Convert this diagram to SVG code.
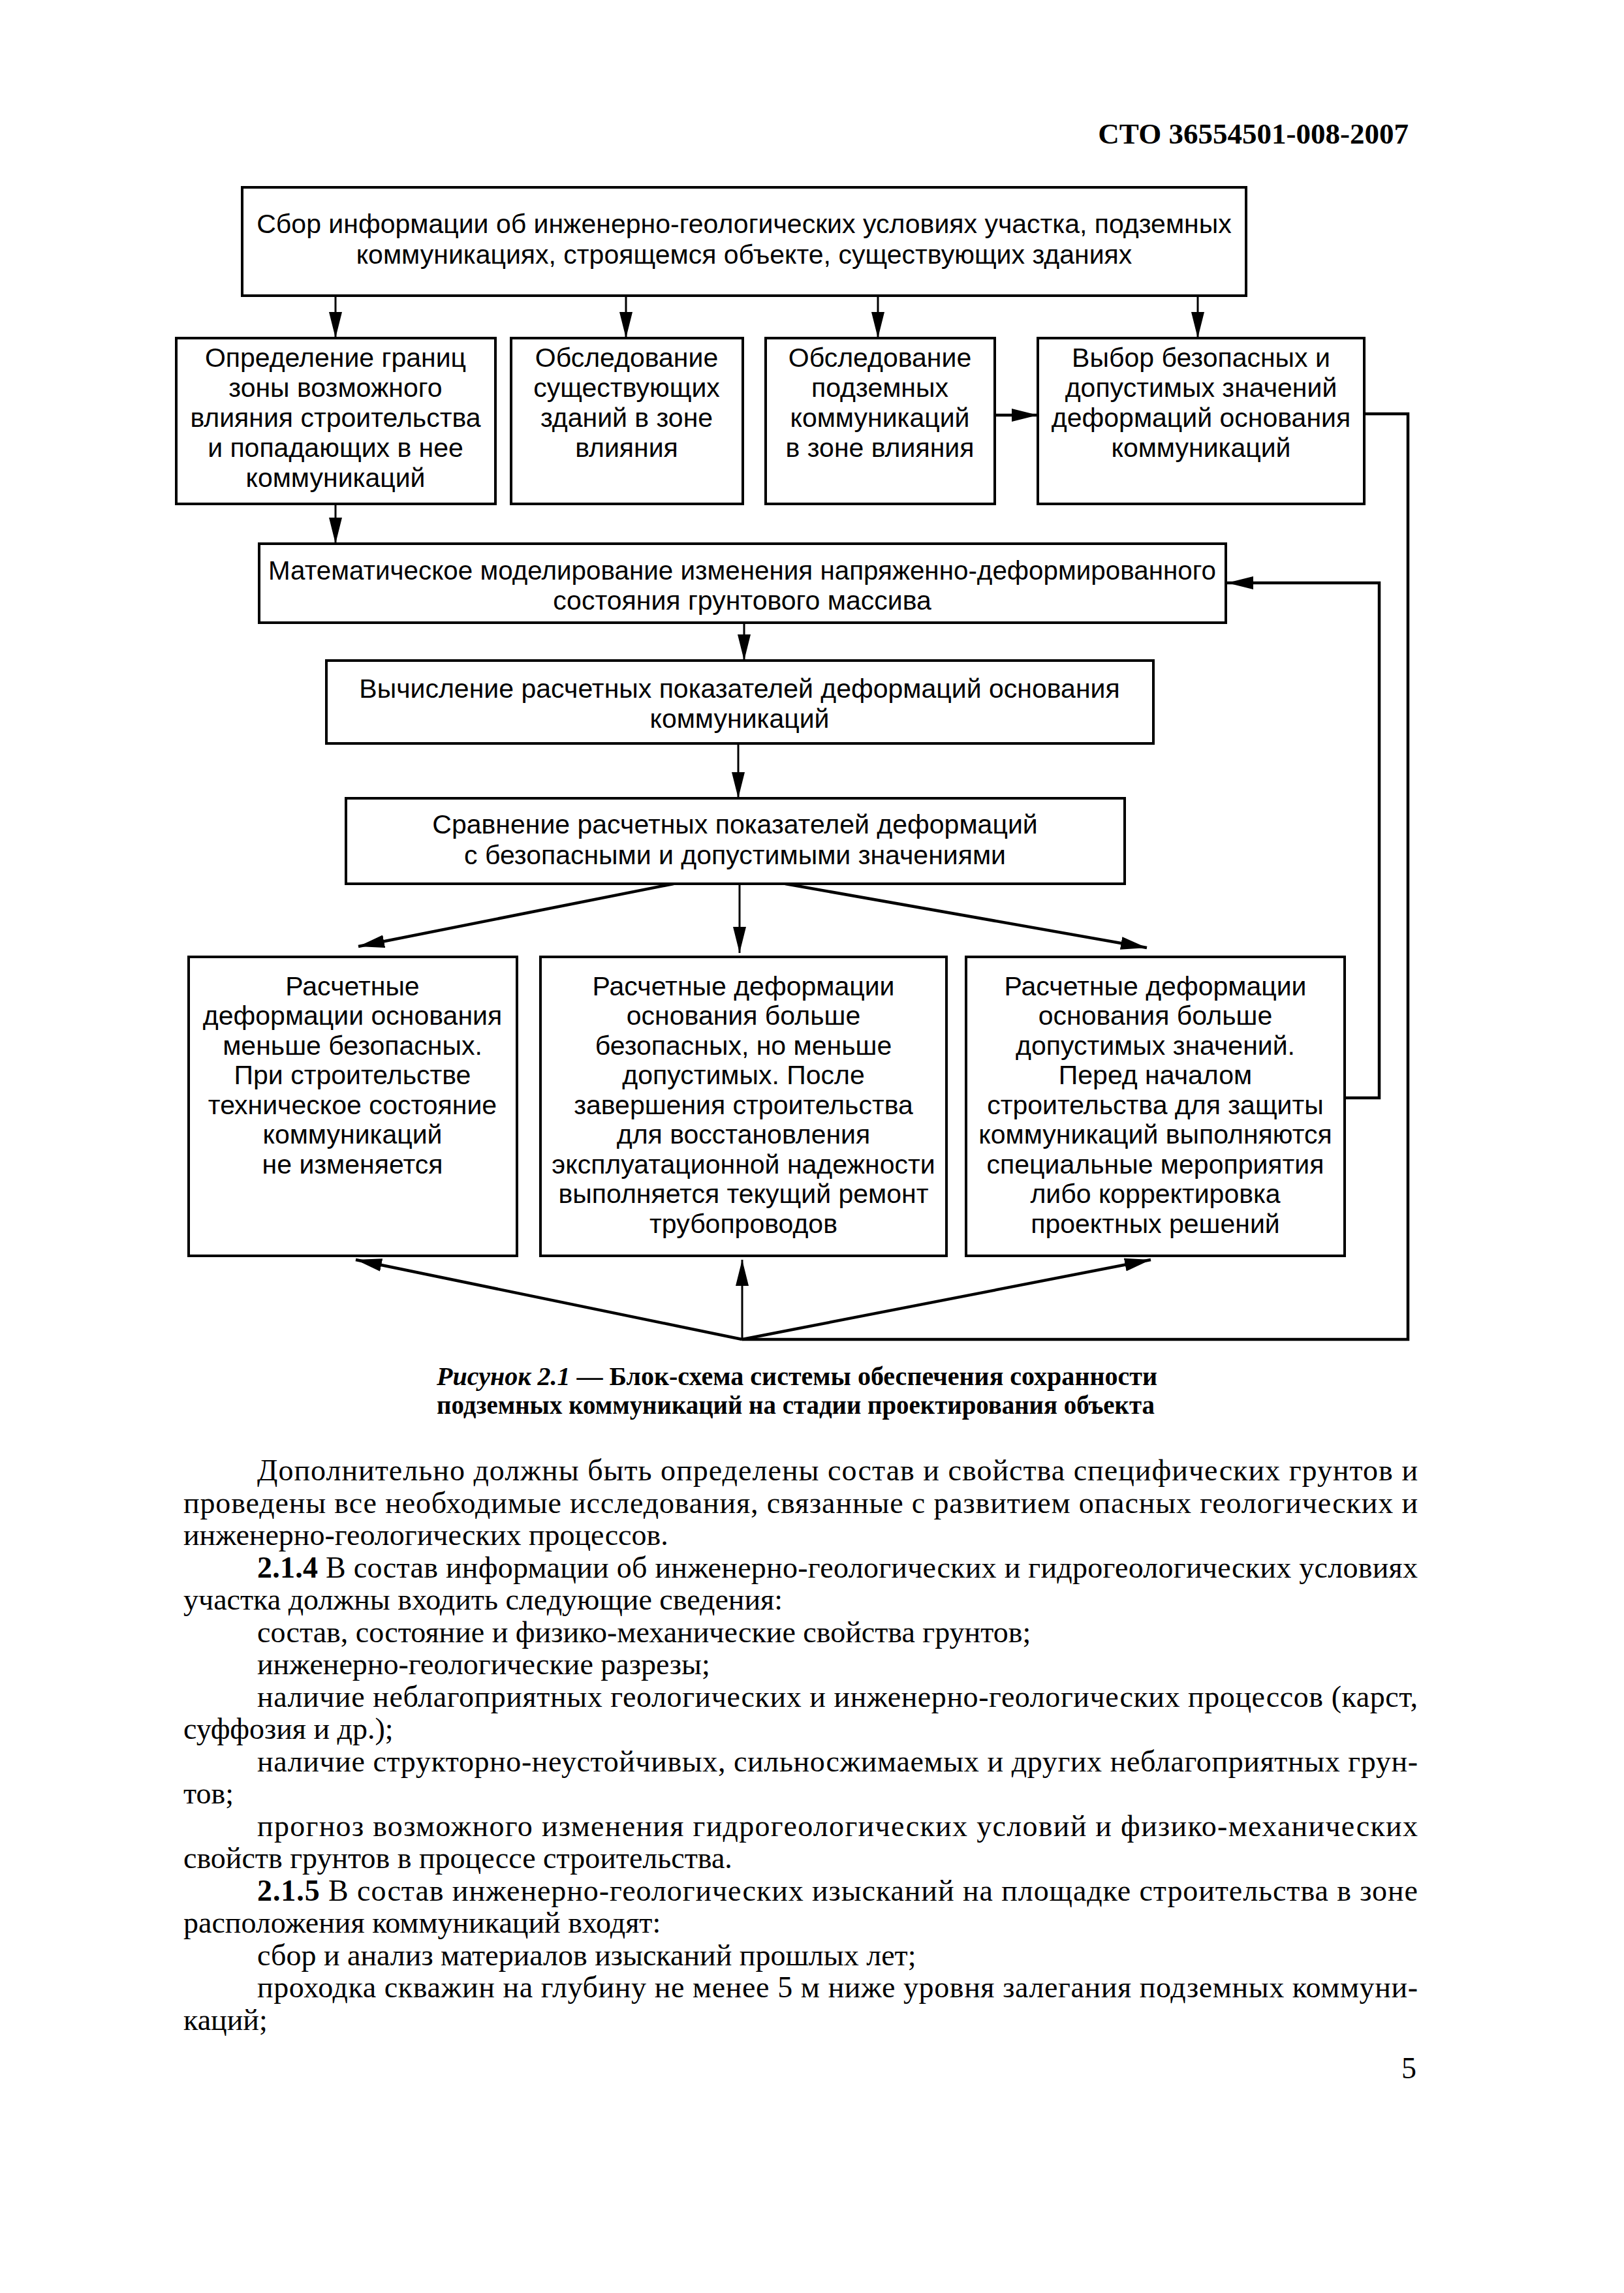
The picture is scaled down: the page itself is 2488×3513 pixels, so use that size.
<svg xmlns="http://www.w3.org/2000/svg" width="2488" height="3513" viewBox="0 0 2488 3513">
<style>
.box{fill:#fff;stroke:#000;stroke-width:4}
.d{font-family:"Liberation Sans",Arial,sans-serif;font-size:41px;text-anchor:middle;fill:#000}
.c{fill:none;stroke:#000;stroke-width:3}
.ct{fill:none;stroke:#000;stroke-width:4.5}
.b{font-family:"Liberation Serif","Times New Roman",serif;font-size:46px;fill:#000}
.cap{font-family:"Liberation Serif","Times New Roman",serif;font-size:40px;font-weight:bold;fill:#000}
</style>
<defs>
<marker id="ah" markerUnits="userSpaceOnUse" markerWidth="44" markerHeight="24" refX="40" refY="11" orient="auto" viewBox="0 0 44 22">
<path d="M0,1 L40,11 L0,21 Z" fill="#000"/>
</marker>
</defs>
<rect width="2488" height="3513" fill="#fff"/>
<text x="2158" y="220" font-family="Liberation Serif,Times New Roman,serif" font-size="45" font-weight="bold" text-anchor="end">СТО 36554501-008-2007</text>

<g id="connectors">
<line class="c" x1="514" y1="453" x2="514" y2="518" marker-end="url(#ah)"/>
<line class="c" x1="959" y1="453" x2="959" y2="518" marker-end="url(#ah)"/>
<line class="c" x1="1345" y1="453" x2="1345" y2="518" marker-end="url(#ah)"/>
<line class="c" x1="1835" y1="453" x2="1835" y2="518" marker-end="url(#ah)"/>
<line class="ct" x1="1526" y1="636" x2="1590" y2="636" marker-end="url(#ah)"/>
<line class="c" x1="514" y1="772" x2="514" y2="833" marker-end="url(#ah)"/>
<line class="c" x1="1140" y1="954" x2="1140" y2="1012" marker-end="url(#ah)"/>
<line class="c" x1="1131" y1="1139" x2="1131" y2="1223" marker-end="url(#ah)"/>
<line class="ct" x1="1032" y1="1354" x2="549" y2="1450" marker-end="url(#ah)"/>
<line class="c" x1="1133" y1="1354" x2="1133" y2="1460" marker-end="url(#ah)"/>
<line class="ct" x1="1203" y1="1354" x2="1757" y2="1452" marker-end="url(#ah)"/>
<polyline class="ct" points="2090,634 2157,634 2157,2052 1137,2052"/>
<line class="ct" x1="1137" y1="2052" x2="545" y2="1930" marker-end="url(#ah)"/>
<line class="c" x1="1137" y1="2052" x2="1137" y2="1930" marker-end="url(#ah)"/>
<line class="ct" x1="1137" y1="2052" x2="1763" y2="1930" marker-end="url(#ah)"/>
<polyline class="ct" points="2058,1682 2113,1682 2113,893 1880,893" marker-end="url(#ah)"/>
</g>

<g id="n-collect">
<rect class="box" x="371" y="287" width="1538" height="166"/>
<text class="d" x="1140" y="357">Сбор информации об инженерно-геологических условиях участка, подземных</text>
<text class="d" x="1140" y="404">коммуникациях, строящемся объекте, существующих зданиях</text>
</g>

<g id="n-zone">
<rect class="box" x="270" y="518" width="489" height="254"/>
<text class="d" x="514" y="562">Определение границ</text>
<text class="d" x="514" y="608">зоны возможного</text>
<text class="d" x="514" y="654">влияния строительства</text>
<text class="d" x="514" y="700">и попадающих в нее</text>
<text class="d" x="514" y="746">коммуникаций</text>
</g>

<g id="n-buildings">
<rect class="box" x="783" y="518" width="355" height="254"/>
<text class="d" x="960" y="562">Обследование</text>
<text class="d" x="960" y="608">существующих</text>
<text class="d" x="960" y="654">зданий в зоне</text>
<text class="d" x="960" y="700">влияния</text>
</g>

<g id="n-underground">
<rect class="box" x="1173" y="518" width="351" height="254"/>
<text class="d" x="1348" y="562">Обследование</text>
<text class="d" x="1348" y="608">подземных</text>
<text class="d" x="1348" y="654">коммуникаций</text>
<text class="d" x="1348" y="700">в зоне влияния</text>
</g>

<g id="n-choice">
<rect class="box" x="1590" y="518" width="500" height="254"/>
<text class="d" x="1840" y="562">Выбор безопасных и</text>
<text class="d" x="1840" y="608">допустимых значений</text>
<text class="d" x="1840" y="654">деформаций основания</text>
<text class="d" x="1840" y="700">коммуникаций</text>
</g>

<g id="n-model">
<rect class="box" x="397" y="833" width="1481" height="121"/>
<text class="d" x="1137" y="888" textLength="1452" lengthAdjust="spacingAndGlyphs">Математическое моделирование изменения напряженно-деформированного</text>
<text class="d" x="1137" y="934">состояния грунтового массива</text>
</g>

<g id="n-calc">
<rect class="box" x="500" y="1012" width="1267" height="127"/>
<text class="d" x="1133" y="1069">Вычисление расчетных показателей деформаций основания</text>
<text class="d" x="1133" y="1115">коммуникаций</text>
</g>

<g id="n-compare">
<rect class="box" x="530" y="1223" width="1193" height="131"/>
<text class="d" x="1126" y="1277">Сравнение расчетных показателей деформаций</text>
<text class="d" x="1126" y="1324">с безопасными и допустимыми значениями</text>
</g>

<g id="n-less">
<rect class="box" x="289" y="1466" width="503" height="458"/>
<text class="d" x="540" y="1525">Расчетные</text>
<text class="d" x="540" y="1570">деформации основания</text>
<text class="d" x="540" y="1616">меньше безопасных.</text>
<text class="d" x="540" y="1661">При строительстве</text>
<text class="d" x="540" y="1707">техническое состояние</text>
<text class="d" x="540" y="1752">коммуникаций</text>
<text class="d" x="540" y="1798">не изменяется</text>
</g>

<g id="n-middle">
<rect class="box" x="828" y="1466" width="622" height="458"/>
<text class="d" x="1139" y="1525">Расчетные деформации</text>
<text class="d" x="1139" y="1570">основания больше</text>
<text class="d" x="1139" y="1616">безопасных, но меньше</text>
<text class="d" x="1139" y="1661">допустимых. После</text>
<text class="d" x="1139" y="1707">завершения строительства</text>
<text class="d" x="1139" y="1752">для восстановления</text>
<text class="d" x="1139" y="1798">эксплуатационной надежности</text>
<text class="d" x="1139" y="1843">выполняется текущий ремонт</text>
<text class="d" x="1139" y="1889">трубопроводов</text>
</g>

<g id="n-more">
<rect class="box" x="1480" y="1466" width="580" height="458"/>
<text class="d" x="1770" y="1525">Расчетные деформации</text>
<text class="d" x="1770" y="1570">основания больше</text>
<text class="d" x="1770" y="1616">допустимых значений.</text>
<text class="d" x="1770" y="1661">Перед началом</text>
<text class="d" x="1770" y="1707">строительства для защиты</text>
<text class="d" x="1770" y="1752">коммуникаций выполняются</text>
<text class="d" x="1770" y="1798">специальные мероприятия</text>
<text class="d" x="1770" y="1843">либо корректировка</text>
<text class="d" x="1770" y="1889">проектных решений</text>
</g>

<text class="cap" x="669" y="2122" textLength="1104" lengthAdjust="spacingAndGlyphs"><tspan font-style="italic">Рисунок 2.1</tspan> — Блок-схема системы обеспечения сохранности</text>
<text class="cap" x="669" y="2166" textLength="1100" lengthAdjust="spacingAndGlyphs">подземных коммуникаций на стадии проектирования объекта</text>

<text class="b" x="394" y="2268" textLength="1778" lengthAdjust="spacing">Дополнительно должны быть определены состав и свойства специфических грунтов и</text>
<text class="b" x="281" y="2317.5" textLength="1891" lengthAdjust="spacing">проведены все необходимые исследования, связанные с развитием опасных геологических и</text>
<text class="b" x="281" y="2367">инженерно-геологических процессов.</text>
<text class="b" x="394" y="2416.5" textLength="1778" lengthAdjust="spacing"><tspan font-weight="bold">2.1.4</tspan> В состав информации об инженерно-геологических и гидрогеологических условиях</text>
<text class="b" x="281" y="2466">участка должны входить следующие сведения:</text>
<text class="b" x="394" y="2515.5">состав, состояние и физико-механические свойства грунтов;</text>
<text class="b" x="394" y="2565">инженерно-геологические разрезы;</text>
<text class="b" x="394" y="2614.5" textLength="1778" lengthAdjust="spacing">наличие неблагоприятных геологических и инженерно-геологических процессов (карст,</text>
<text class="b" x="281" y="2664">суффозия и др.);</text>
<text class="b" x="394" y="2713.5" textLength="1778" lengthAdjust="spacing">наличие структорно-неустойчивых, сильносжимаемых и других неблагоприятных грун-</text>
<text class="b" x="281" y="2763">тов;</text>
<text class="b" x="394" y="2812.5" textLength="1778" lengthAdjust="spacing">прогноз возможного изменения гидрогеологических условий и физико-механических</text>
<text class="b" x="281" y="2862">свойств грунтов в процессе строительства.</text>
<text class="b" x="394" y="2911.5" textLength="1778" lengthAdjust="spacing"><tspan font-weight="bold">2.1.5</tspan> В состав инженерно-геологических изысканий на площадке строительства в зоне</text>
<text class="b" x="281" y="2961">расположения коммуникаций входят:</text>
<text class="b" x="394" y="3010.5">сбор и анализ материалов изысканий прошлых лет;</text>
<text class="b" x="394" y="3060" textLength="1778" lengthAdjust="spacing">проходка скважин на глубину не менее 5 м ниже уровня залегания подземных коммуни-</text>
<text class="b" x="281" y="3109.5">каций;</text>
<text class="b" x="2170" y="3184" text-anchor="end" font-size="42">5</text>
</svg>
